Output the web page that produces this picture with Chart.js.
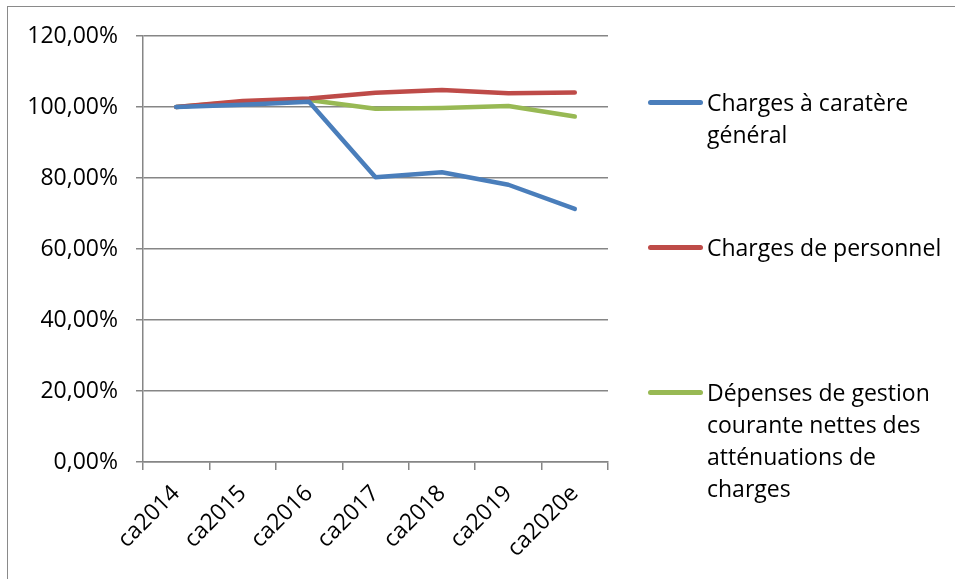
<!DOCTYPE html>
<html lang="fr">
<head>
<meta charset="utf-8">
<title>Évolution des charges</title>
<script src="https://cdn.jsdelivr.net/npm/chart.js@4/dist/chart.umd.min.js"></script>
<style>
  html, body { margin: 0; padding: 0; background: #fff; }
  #wrap { position: relative; width: 955px; height: 579px; overflow: hidden; }
  #frame { position: absolute; left: 7px; top: 6px; right: -2px; bottom: -2px;
           border-top: 1.5px solid #8a8a8a; border-left: 1.5px solid #8a8a8a; }
  canvas { position: absolute; left: 0; top: 0; }
  .legend { position: absolute; left: 646px; font-family: "Open Sans", sans-serif;
            font-size: 23px; line-height: 32px; color: #000; }
  .legend .item { position: absolute; left: 0; width: 305px; }
  .legend .swatch { position: absolute; left: 2px; top: 14px; width: 55px; height: 4.5px;
                    border-radius: 3px; }
  .legend .text { margin-left: 61px; white-space: nowrap; }
</style>
</head>
<body>
<div id="wrap">
  <div id="frame"></div>
  <canvas id="chart" width="955" height="579"></canvas>
  <div class="legend" id="legend"></div>
</div>
<script>
// Exercices (comptes administratifs) et indices base 100 en 2014
const categories = ['ca2014', 'ca2015', 'ca2016', 'ca2017', 'ca2018', 'ca2019', 'ca2020e'];
const chargesGenerales = [100.0, 100.6, 101.5, 80.2, 81.6, 78.1, 71.3];
const chargesPersonnel = [100.0, 101.7, 102.4, 104.0, 104.8, 103.9, 104.1];
const depensesGestion = [100.0, 101.5, 102.0, 99.5, 99.7, 100.3, 97.3];
const yTickValues = [0, 20, 40, 60, 80, 100, 120];

const seriesNames = [
  ['Charges à caratère', 'général'],
  ['Charges de personnel'],
  ['Dépenses de gestion', 'courante nettes des', 'atténuations de', 'charges']
];
const seriesColors = ['#4A7EBB', '#BE4B48', '#98B954'];
const seriesValues = [chargesGenerales, chargesPersonnel, depensesGestion];

const FONT = { family: '"Open Sans", sans-serif', size: 23 };
const AXIS_GREY = '#868686';

const datasets = seriesValues.map((vals, i) => ({
  label: seriesNames[i].join(' '),
  data: vals,
  borderColor: seriesColors[i],
  backgroundColor: seriesColors[i],
  borderWidth: 4.5,
  borderCapStyle: 'round',
  borderJoinStyle: 'round',
  pointRadius: 0,
  tension: 0,
  fill: false
}));

new Chart(document.getElementById('chart'), {
  type: 'line',
  data: { labels: categories, datasets },
  options: {
    responsive: false,
    devicePixelRatio: 1,
    animation: false,
    layout: { padding: { left: 0, top: 36, right: 347, bottom: 0 } },
    plugins: { legend: { display: false }, tooltip: { enabled: false } },
    scales: {
      x: {
        offset: true,
        grid: { display: true, drawOnChartArea: false, drawTicks: true, tickLength: 8,
                color: AXIS_GREY, lineWidth: 1.5, offset: true },
        border: { display: true, color: AXIS_GREY, width: 1.5 },
        ticks: { font: FONT, color: '#000', minRotation: 45, maxRotation: 45, padding: 10,
                 autoSkip: false },
        afterFit: (scale) => { scale.height = 117; }
      },
      y: {
        min: 0,
        max: 120,
        afterBuildTicks: (scale) => { scale.ticks = yTickValues.map(v => ({ value: v })); },
        grid: { color: AXIS_GREY, lineWidth: 1.5, tickLength: 7, drawTicks: true },
        border: { display: true, color: AXIS_GREY, width: 1.5 },
        ticks: {
          font: FONT, color: '#000', padding: 18,
          callback: (v) => v.toFixed(2).replace('.', ',') + '%'
        },
        afterFit: (scale) => { scale.width = 143; }
      }
    }
  }
});

// Légende à droite, libellés sur plusieurs lignes
const legend = document.getElementById('legend');
const legendTop = 86;
const legendGap = 145;
seriesNames.forEach((lines, i) => {
  const item = document.createElement('div');
  item.className = 'item';
  item.style.top = (legendTop + i * legendGap) + 'px';
  const sw = document.createElement('div');
  sw.className = 'swatch';
  sw.style.background = seriesColors[i];
  const tx = document.createElement('div');
  tx.className = 'text';
  tx.innerHTML = lines.map(l => l.replace(/&/g, '&amp;')).join('<br>');
  item.appendChild(sw);
  item.appendChild(tx);
  legend.appendChild(item);
});
</script>
</body>
</html>
